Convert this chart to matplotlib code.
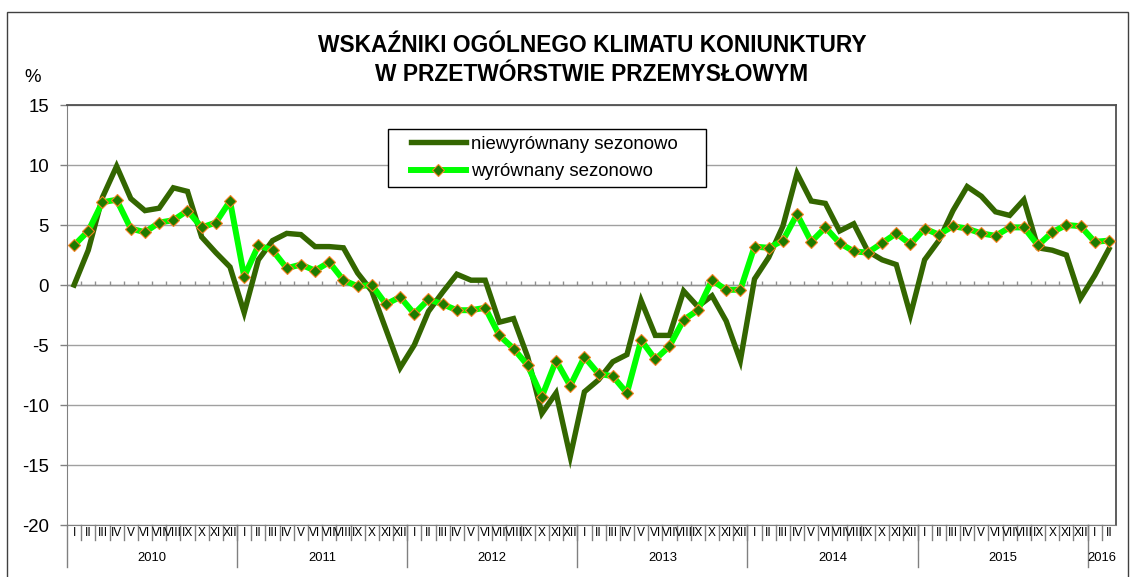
import numpy as np
import matplotlib
matplotlib.use("Agg")
import matplotlib.pyplot as plt
from matplotlib.patches import Rectangle

plt.rcParams['font.family'] = ['Liberation Sans', 'DejaVu Sans']
plt.rcParams['axes.unicode_minus'] = False

# data: monthly, I 2010 - II 2016
years = ['2010', '2011', '2012', '2013', '2014', '2015', '2016']
months_in_year = [12, 12, 12, 12, 12, 12, 2]
roman = ['I', 'II', 'III', 'IV', 'V', 'VI', 'VII', 'VIII', 'IX', 'X', 'XI', 'XII']

niewyrownany = [
    0.0, 2.9, 7.3, 9.9, 7.2, 6.2, 6.4, 8.1, 7.8, 4.0, 2.7, 1.5,
    -2.3, 2.1, 3.7, 4.3, 4.2, 3.2, 3.2, 3.1, 1.0, -0.5, -3.7, -6.9,
    -5.0, -2.2, -0.6, 0.9, 0.4, 0.4, -3.1, -2.8, -6.0, -10.7, -9.0, -14.3,
    -8.9, -7.9, -6.4, -5.8, -1.3, -4.2, -4.2, -0.5, -1.8, -0.9, -3.0, -6.3,
    0.5, 2.3, 4.9, 9.3, 7.0, 6.8, 4.5, 5.1, 2.8, 2.1, 1.7, -2.5,
    2.1, 3.7, 6.2, 8.2, 7.4, 6.1, 5.8, 7.1, 3.1, 2.9, 2.5, -1.1,
    0.8, 3.0,
]
wyrownany = [
    3.3, 4.5, 6.9, 7.1, 4.7, 4.4, 5.2, 5.4, 6.2, 4.8, 5.2, 7.0,
    0.7, 3.3, 2.9, 1.4, 1.7, 1.2, 1.9, 0.4, -0.1, 0.0, -1.6, -1.0,
    -2.4, -1.2, -1.6, -2.1, -2.1, -1.9, -4.2, -5.3, -6.7, -9.3, -6.3, -8.4,
    -6.0, -7.4, -7.6, -9.0, -4.6, -6.2, -5.1, -2.9, -2.1, 0.4, -0.4, -0.4,
    3.2, 3.1, 3.7, 5.9, 3.6, 4.8, 3.5, 2.8, 2.7, 3.5, 4.3, 3.4,
    4.7, 4.2, 4.9, 4.7, 4.3, 4.1, 4.8, 4.8, 3.3, 4.4, 5.0, 4.9,
    3.6, 3.7,
]

n = len(niewyrownany)
x = np.arange(n)
month_labels = [roman[m] for cnt in months_in_year for m in range(cnt)]

fig = plt.figure(figsize=(11.32, 5.77), dpi=100)
W, H = 1132, 577
ax = fig.add_axes([67 / W, 1 - 525 / H, (1116 - 67) / W, 420 / H])

# outer chart border
fig.patches.append(Rectangle((7 / W, -0.05), (1128 - 7) / W, 1.05 - 12 / H,
                             transform=fig.transFigure, fill=False,
                             edgecolor='#404040', linewidth=1.0))

ax.set_xlim(-0.5, n - 0.5)
ax.set_ylim(-20, 15)
ax.set_yticks(np.arange(-20, 16, 5))
ax.yaxis.grid(True, color='#a0a0a0', linewidth=1.0)
ax.set_axisbelow(True)
ax.tick_params(axis='y', direction='out', length=5, width=1, color='#808080',
               labelsize=13.4, pad=8)
ax.set_xticks([])
for s in ['left', 'bottom']:
    ax.spines[s].set_color('#808080')
for s in ['top', 'right']:
    ax.spines[s].set_color('#505050')
    ax.spines[s].set_linewidth(1.3)

# category axis line at 0 with small ticks
ax.axhline(0, color='#909090', linewidth=1.0, zorder=1)
ax.vlines(np.arange(1, n) - 0.5, 0, 0.3, color='#909090', linewidth=1.0, zorder=1)

ax.plot(x, niewyrownany, color='#336600', linewidth=3.9,
        solid_joinstyle='miter', label='niewyrównany sezonowo', zorder=3)
ax.plot(x, wyrownany, color='#00ff00', linewidth=4.3, marker='D', markersize=6.3,
        markerfacecolor='#1e7b00', markeredgecolor='#f58220', markeredgewidth=0.8,
        label='wyrównany sezonowo', zorder=4)

# month and year labels below the plot
tr = ax.get_xaxis_transform()
for i, lab in enumerate(month_labels):
    ax.text(i, -0.019, lab, transform=tr, ha='center', va='center', fontsize=8.6)
for b in np.arange(1, n) - 0.5:
    ax.plot([b, b], [0, -0.036], transform=tr, color='#808080', linewidth=1,
            clip_on=False)
starts = np.concatenate([[0], np.cumsum(months_in_year)])
for k, yr in enumerate(years):
    ax.plot([starts[k] - 0.5] * 2, [0, -0.1], transform=tr, color='#808080',
            linewidth=1, clip_on=False)
    mid = (starts[k] + starts[k + 1] - 1) / 2
    ax.text(mid, -0.079, yr, transform=tr, ha='center', va='center', fontsize=9.4)

fig.text(592 / W, 1 - 60 / H, 'WSKAŹNIKI OGÓLNEGO KLIMATU KONIUNKTURY\nW PRZETWÓRSTWIE PRZEMYSŁOWYM',
         ha='center', va='center', fontsize=16.4, fontweight='bold', linespacing=1.3)
fig.text(33 / W, 1 - 77 / H, '%', ha='center', va='center', fontsize=13.4)

# legend box drawn separately so the padding matches
ax.add_patch(Rectangle((388 / W, 1 - 187 / H), (706 - 388) / W, 58 / H,
                       transform=fig.transFigure, facecolor='white',
                       edgecolor='black', linewidth=1.0, zorder=5, clip_on=False))
leg = ax.legend(loc='center left', bbox_to_anchor=(411 / W, 1 - 158 / H),
                bbox_transform=fig.transFigure, fontsize=13.4, frameon=False,
                borderaxespad=0, borderpad=0, handlelength=2.95,
                handletextpad=0.28, labelspacing=0.55)
leg.set_zorder(6)

fig.savefig('out.png', dpi=100)
